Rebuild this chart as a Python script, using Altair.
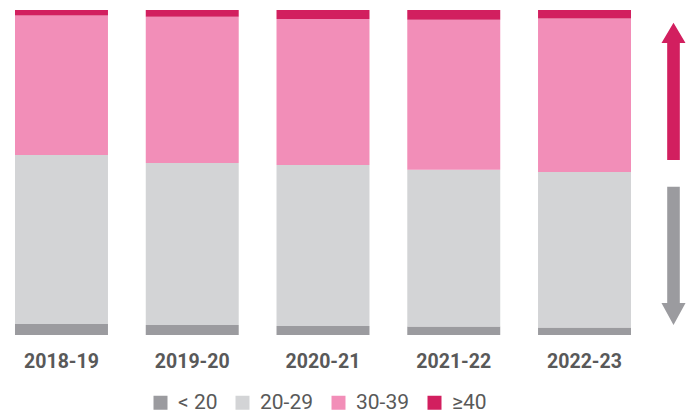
import altair as alt
import pandas as pd

years = ["2018-19", "2019-20", "2020-21", "2021-22", "2022-23"]
groups = ["< 20", "20-29", "30-39", "≥40"]
colors = ["#9B9B9F", "#D3D4D6", "#F28EB8", "#D21F5F"]
under20 = [3.4, 3.1, 2.8, 2.6, 2.3]
age20_29 = [52.0, 49.8, 49.5, 48.3, 47.9]
age30_39 = [42.9, 45.0, 44.9, 46.2, 47.3]
over40 = [1.7, 2.1, 2.8, 3.0, 2.6]

series = [under20, age20_29, age30_39, over40]
rows = []
for gi, (g, vals) in enumerate(zip(groups, series)):
    for y, v in zip(years, vals):
        rows.append({"year": y, "group": g, "value": v, "rank": gi})
df = pd.DataFrame(rows)

bars = alt.Chart(df).mark_bar(strokeWidth=0).encode(
    x=alt.X("year:N", sort=years, title=None,
            scale=alt.Scale(paddingInner=0.289, paddingOuter=0.0535),
            axis=alt.Axis(labelAngle=0, ticks=False, tickSize=0, domain=False,
                          labelPadding=17, labelFont="Roboto", labelFontWeight="bold",
                          labelFontSize=19.5, labelColor="#595959", grid=False)),
    y=alt.Y("value:Q", stack="normalize", axis=None),
    color=alt.Color("group:N", sort=groups,
                    scale=alt.Scale(domain=groups, range=colors),
                    legend=alt.Legend(title=None, orient="none", direction="horizontal",
                                      legendX=142, legendY=382, symbolType="square",
                                      symbolSize=196, symbolStrokeWidth=0,
                                      labelFont="Roboto", labelFontSize=21,
                                      labelColor="#595959", columnPadding=14,
                                      labelOffset=7, padding=0)),
    order=alt.Order("rank:Q", sort="ascending"),
)

arrow_df = pd.DataFrame({"a": [0]})
up_path = "M0,-1 L0.175,-0.704 L0.092,-0.704 L0.092,1 L-0.092,1 L-0.092,-0.704 L-0.175,-0.704 Z"
down_path = "M0,1 L0.174,0.682 L0.091,0.682 L0.091,-1 L-0.091,-1 L-0.091,0.682 L-0.174,0.682 Z"

up = alt.Chart(arrow_df).mark_point(shape=up_path, filled=True, color="#D21F5F",
                                    opacity=1, strokeWidth=0).encode(
    x=alt.value(665.5), y=alt.value(81.35), size=alt.value(137.3 ** 2))
down = alt.Chart(arrow_df).mark_point(shape=down_path, filled=True, color="#9B9B9F",
                                      opacity=1, strokeWidth=0).encode(
    x=alt.value(665.5), y=alt.value(245.85), size=alt.value(138.3 ** 2))

chart = alt.layer(bars, up, down).properties(
    width=630, height=325,
    autosize=alt.AutoSizeParams(type="none"),
    padding={"left": 0, "top": 2, "right": 48, "bottom": 78},
).configure_view(stroke=None)

chart.save("out.html", embed_options={"renderer": "svg", "actions": False})
